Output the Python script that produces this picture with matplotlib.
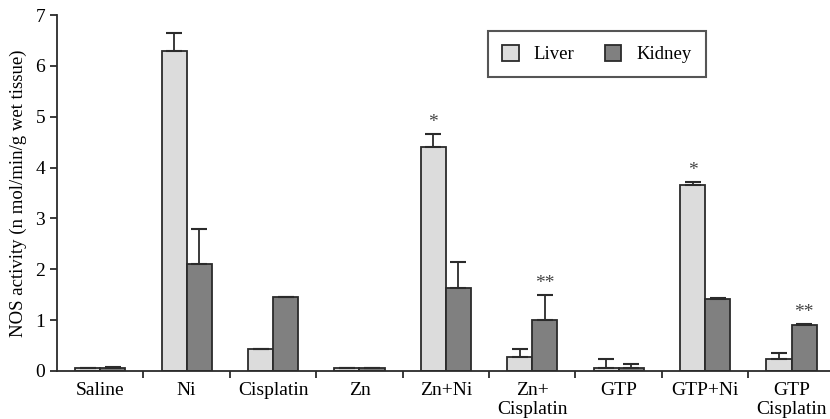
import matplotlib.pyplot as plt
import numpy as np

categories = ["Saline", "Ni", "Cisplatin", "Zn", "Zn+Ni", "Zn+\nCisplatin",
              "GTP", "GTP+Ni", "GTP\nCisplatin"]
liver = [0.05, 6.30, 0.43, 0.05, 4.40, 0.28, 0.05, 3.65, 0.24]
liver_err = [0.0, 0.35, 0.0, 0.0, 0.26, 0.16, 0.19, 0.06, 0.11]
kidney = [0.06, 2.10, 1.45, 0.05, 1.64, 1.01, 0.05, 1.41, 0.90]
kidney_err = [0.02, 0.70, 0.0, 0.0, 0.51, 0.49, 0.09, 0.02, 0.02]
liver_marks = ["", "", "", "", "*", "", "", "*", ""]
kidney_marks = ["", "", "", "", "", "**", "", "", "**"]

plt.rcParams["font.family"] = ["Liberation Serif", "DejaVu Serif"]

fig = plt.figure(figsize=(8.3, 4.19), dpi=100)
ax = fig.add_axes([0.0687, 0.1146, 0.937, 0.8494])

x = np.arange(len(categories))
w = 0.29
edge = "#2b2b2b"
err_kw = dict(ecolor=edge, elinewidth=1.3, capsize=6, capthick=1.5)

ax.bar(x - w / 2, liver, w, color="#dcdcdc", edgecolor=edge, linewidth=1.3,
       yerr=[np.zeros(len(liver)), liver_err], error_kw=err_kw, label="Liver")
ax.bar(x + w / 2, kidney, w, color="#808080", edgecolor=edge, linewidth=1.3,
       yerr=[np.zeros(len(kidney)), kidney_err], error_kw=err_kw, label="Kidney")

for i in range(len(categories)):
    if liver_marks[i]:
        ax.text(x[i] - w / 2, liver[i] + liver_err[i] + 0.06, liver_marks[i],
                ha="center", va="bottom", fontsize=14, color="#444444")
    if kidney_marks[i]:
        ax.text(x[i] + w / 2, kidney[i] + kidney_err[i] + 0.06, kidney_marks[i],
                ha="center", va="bottom", fontsize=14, color="#444444")

ax.set_xlim(-0.5, len(categories) - 0.5)
ax.set_ylim(0, 7)
ax.set_yticks(range(8))
ax.set_xticks(x)
ax.set_xticklabels(categories, fontsize=14, linespacing=1.15)
ax.set_xticks(np.arange(len(categories)) + 0.5, minor=True)
ax.tick_params(axis="x", which="major", length=0, pad=8)
ax.tick_params(axis="x", which="minor", length=5, width=1.3, direction="out", color=edge)
ax.tick_params(axis="y", length=5, width=1.3, direction="out", labelsize=14, color=edge)
ax.set_ylabel("NOS activity (n mol/min/g wet tissue)", fontsize=13.5, labelpad=6)

for s in ["top", "right"]:
    ax.spines[s].set_visible(False)
for s in ["left", "bottom"]:
    ax.spines[s].set_linewidth(1.3)
    ax.spines[s].set_color(edge)

leg = ax.legend(loc="upper left", bbox_to_anchor=(0.554, 0.955), ncol=2,
                fontsize=13.5, frameon=True, fancybox=False, edgecolor=edge,
                handlelength=0.9, handleheight=0.9, columnspacing=1.6,
                borderpad=0.75, handletextpad=0.8, borderaxespad=0)
leg.get_frame().set_linewidth(1.5)

fig.savefig("out.png", dpi=100)
